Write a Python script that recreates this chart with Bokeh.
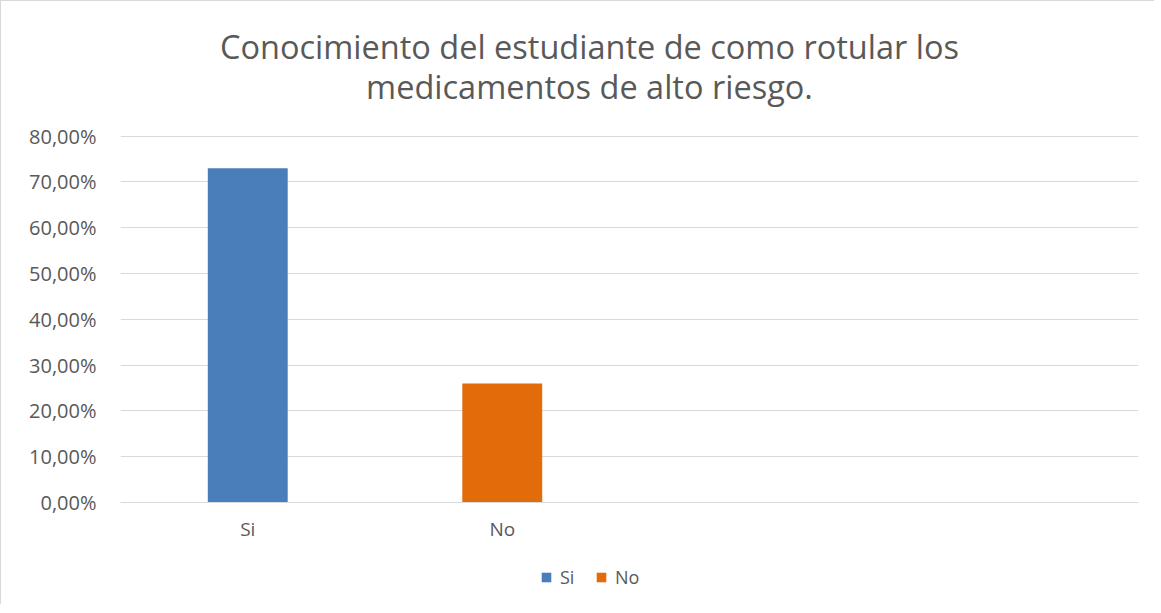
from bokeh.plotting import figure
from bokeh.layouts import column
from bokeh.models import (ColumnDataSource, Range1d, FixedTicker, Label, Legend,
                          LegendItem, FactorRange)
from bokeh.embed import file_html
from bokeh.resources import INLINE

# ---- data ----
categories = ["Si", "No", " ", "  "]
series_names = ["Si", "No"]
values = [0.73, 0.26]
colors = ["#4a7ebb", "#e26b0a"]
y_ticks = [0.0, 0.1, 0.2, 0.3, 0.4, 0.5, 0.6, 0.7, 0.8]
y_tick_labels = ["0,00%", "10,00%", "20,00%", "30,00%", "40,00%",
                 "50,00%", "60,00%", "70,00%", "80,00%"]
title_lines = ["Conocimiento del estudiante de como rotular los",
               "medicamentos de alto riesgo."]

FONT = "Open Sans"
GRAY = "#595959"
W = 1153
FRAME_LEFT = 119  # column aligns all frames to the main chart's frame

# ---- title strip ----
pt = figure(width=W, height=118, x_range=Range1d(0, 1), y_range=Range1d(0, 1),
            x_axis_type=None, y_axis_type=None, output_backend="svg",
            toolbar_location=None, title=None, min_border=0)
pt.outline_line_color = None
pt.grid.visible = False
for i, line in enumerate(title_lines):
    pt.add_layout(Label(x=588 - FRAME_LEFT, y=73 - 40 * i, x_units="screen",
                        y_units="screen", text=line, text_align="center",
                        text_baseline="middle", text_font=FONT,
                        text_font_size="32.5px", text_color=GRAY))

# ---- main chart ----
p = figure(width=W, height=435, x_range=FactorRange(*categories),
           y_range=Range1d(0, 0.8015), output_backend="svg", toolbar_location=None,
           title=None, min_border_left=FRAME_LEFT, min_border_right=16,
           min_border_top=16, min_border_bottom=52)
p.outline_line_color = None

src = ColumnDataSource(dict(x=series_names, top=values, color=colors))
p.vbar(x="x", top="top", width=0.314, color="color", source=src, line_color=None)

p.yaxis.ticker = FixedTicker(ticks=y_ticks)
p.yaxis.major_label_overrides = {t: l for t, l in zip(y_ticks, y_tick_labels)}
p.yaxis.axis_line_color = None
p.yaxis.major_tick_line_color = None
p.yaxis.minor_tick_line_color = None
p.yaxis.major_tick_out = 0
p.yaxis.major_label_standoff = 24
p.yaxis.major_label_text_font = FONT
p.yaxis.major_label_text_font_size = "20px"
p.yaxis.major_label_text_color = GRAY

p.xaxis.axis_line_color = "#d9d9d9"
p.xaxis.major_tick_line_color = None
p.xaxis.major_tick_out = 0
p.xaxis.major_label_standoff = 13
p.xaxis.major_label_text_font = FONT
p.xaxis.major_label_text_font_size = "19px"
p.xaxis.major_label_text_color = GRAY

p.xgrid.grid_line_color = None
p.ygrid.grid_line_color = "#d9d9d9"
p.ygrid.grid_line_width = 1

# ---- legend strip ----
pl = figure(width=W, height=50, x_range=Range1d(0, 1), y_range=Range1d(0, 1),
            x_axis_type=None, y_axis_type=None, output_backend="svg",
            toolbar_location=None, title=None, min_border=0)
pl.outline_line_color = None
pl.grid.visible = False
# legend-only renderers: one bar each, placed outside the visible range
dummies = [pl.vbar(x=[5], bottom=[5], top=[6], width=0.1, color=c, line_color=None)
           for c in colors]
legend = Legend(items=[LegendItem(label=n, renderers=[d])
                       for n, d in zip(series_names, dummies)],
                orientation="horizontal", location=(539 - FRAME_LEFT, 15),
                glyph_width=12, glyph_height=12, label_standoff=8, spacing=15,
                padding=0, margin=0, border_line_color=None,
                background_fill_alpha=0,
                label_text_font=FONT, label_text_font_size="18px",
                label_text_color=GRAY)
pl.add_layout(legend)

layout = column(pt, p, pl, spacing=0)
layout.styles = {"border-top": "1px solid #d9d9d9", "border-left": "1px solid #d9d9d9"}

open("out.html", "w").write(file_html(layout, INLINE))
